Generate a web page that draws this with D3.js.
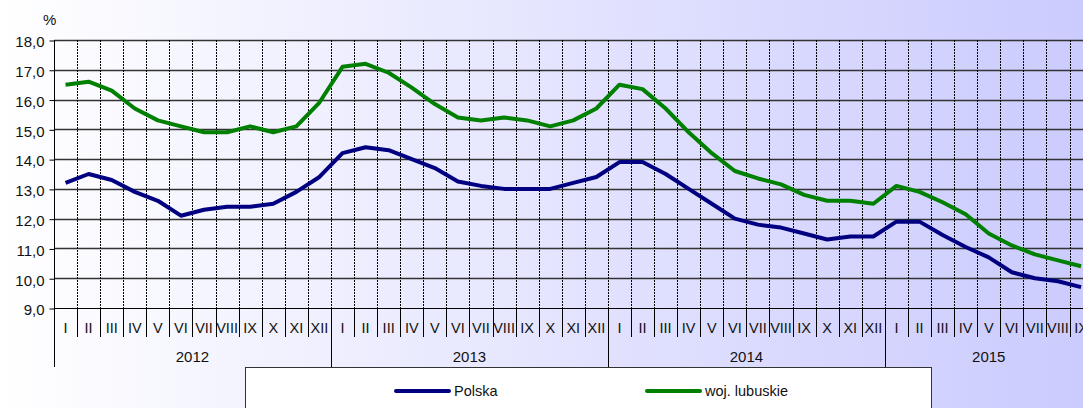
<!DOCTYPE html>
<html>
<head>
<meta charset="utf-8">
<script src="https://cdn.jsdelivr.net/npm/d3@7"></script>
<style>
  body { margin: 0; overflow: hidden; }
  text { font-family: "Liberation Sans", Arial, sans-serif; }
</style>
</head>
<body>
<div id="viz"></div>
<script>
// data
var years = ["2012", "2013", "2014", "2015"];
var monthsPerYear = [12, 12, 12, 9];
var romans = ["I","II","III","IV","V","VI","VII","VIII","IX","X","XI","XII"];
var polska = [13.2,13.5,13.3,12.9,12.6,12.1,12.3,12.4,12.4,12.5,12.9,13.4,
              14.2,14.4,14.3,14.0,13.7,13.25,13.1,13.0,13.0,13.0,13.2,13.4,
              13.9,13.9,13.5,13.0,12.5,12.0,11.8,11.7,11.5,11.3,11.4,11.4,
              11.9,11.9,11.45,11.05,10.7,10.2,10.0,9.9,9.7];
var lubuskie = [16.5,16.6,16.3,15.7,15.3,15.1,14.9,14.9,15.1,14.9,15.1,15.9,
                17.1,17.2,16.9,16.4,15.85,15.4,15.3,15.4,15.3,15.1,15.3,15.7,
                16.5,16.35,15.7,14.9,14.2,13.6,13.35,13.15,12.8,12.6,12.6,12.5,
                13.1,12.9,12.55,12.15,11.5,11.1,10.8,10.6,10.4];
var yTicks = [9,10,11,12,13,14,15,16,17,18];
var seriesNames = ["Polska", "woj. lubuskie"];
var seriesColors = ["#000080", "#008000"];

var W = 1083, H = 408;
var svg = d3.select("#viz").append("svg")
  .attr("width", W).attr("height", H);

var defs = svg.append("defs");
var grad = defs.append("linearGradient").attr("id", "bg")
  .attr("x1", "0%").attr("x2", "100%").attr("y1", "0%").attr("y2", "0%");
grad.append("stop").attr("offset", "0%").attr("stop-color", "#ffffff");
grad.append("stop").attr("offset", "100%").attr("stop-color", "#cbcbfe");
svg.append("rect").attr("width", W).attr("height", H).attr("fill", "url(#bg)");

// month list
var months = [];
years.forEach(function(yr, yi) {
  for (var m = 0; m < monthsPerYear[yi]; m++) months.push({year: yr, m: m, label: romans[m]});
});
var n = months.length;

var plotLeft = 54, step = 23.08, plotTop = 40, plotBottom = 308;
var x = d3.scaleBand().domain(d3.range(n)).range([plotLeft, plotLeft + n * step]).padding(0);
var y = d3.scaleLinear().domain([9, 18]).range([plotBottom, plotTop]);

function px(v) { return Math.round(v) + 0.5; }
function edge(k) { return px(x(0) + k * x.step()); }

// horizontal grid
svg.selectAll("line.hg").data(yTicks.slice(1)).enter().append("line")
  .attr("x1", plotLeft).attr("x2", W)
  .attr("y1", function(d) { return px(y(d)); })
  .attr("y2", function(d) { return px(y(d)); })
  .style("stroke", "#333").style("stroke-width", 1.3);

// vertical dashed grid
svg.selectAll("line.vg").data(d3.range(1, n + 1)).enter().append("line")
  .attr("x1", edge).attr("x2", edge)
  .attr("y1", plotTop).attr("y2", plotBottom)
  .style("stroke", "#000").style("stroke-width", 1)
  .style("stroke-dasharray", "2,1");

// month / year separators below axis
var yearEnds = d3.cumsum(monthsPerYear);
svg.selectAll("line.mt").data(d3.range(1, n + 1)).enter().append("line")
  .attr("x1", edge).attr("x2", edge)
  .attr("y1", plotBottom)
  .attr("y2", function(d) { return yearEnds.indexOf(d) >= 0 ? 367 : 337; })
  .style("stroke", "#000").style("stroke-width", 1);

// month labels
svg.selectAll("text.ml").data(months).enter().append("text")
  .attr("x", function(d, i) { return x(i) + x.bandwidth() / 2; })
  .attr("y", 333)
  .attr("text-anchor", "middle")
  .style("font-size", "14.5px").style("fill", "#111")
  .text(function(d) { return d.label; });

// year labels
var cum = 0;
years.forEach(function(yr, yi) {
  var a = x(cum), b = x(0) + (cum + monthsPerYear[yi]) * x.step();
  svg.append("text").attr("x", (a + b) / 2).attr("y", 362)
    .attr("text-anchor", "middle").style("font-size", "15px").style("fill", "#111")
    .text(yr);
  cum += monthsPerYear[yi];
});

// x axis line
svg.append("line").attr("x1", plotLeft).attr("x2", W)
  .attr("y1", px(y(9))).attr("y2", px(y(9)))
  .style("stroke", "#000");

// y axis
var yAxis = d3.axisLeft(y).tickValues(yTicks).tickSize(5).tickPadding(5)
  .tickFormat(function(d) { return d3.format(".1f")(d).replace(".", ","); });
var ga = svg.append("g").attr("transform", "translate(" + (plotLeft + 0.5) + ",0.5)").call(yAxis);
ga.select(".domain").remove();
ga.selectAll("line").style("stroke", "#000");
ga.selectAll("text").attr("dy", "0.42em").style("font-size", "15px").style("fill", "#111")
  .style("font-family", "'Liberation Sans', Arial, sans-serif");
svg.append("line").attr("x1", plotLeft + 0.5).attr("x2", plotLeft + 0.5)
  .attr("y1", plotTop).attr("y2", 367).style("stroke", "#000");

svg.append("text").attr("x", 43).attr("y", 25).style("font-size", "15px")
  .style("fill", "#111").text("%");

// lines
var line = d3.line()
  .x(function(d, i) { return x(i) + x.bandwidth() / 2; })
  .y(function(d) { return y(d); });
[polska, lubuskie].forEach(function(s, si) {
  svg.append("path").datum(s)
    .attr("d", line)
    .style("fill", "none")
    .style("stroke", seriesColors[si])
    .style("stroke-width", 4)
    .style("stroke-linejoin", "round");
});

// legend
svg.append("rect").attr("x", 245.5).attr("y", 367.5).attr("width", 686).attr("height", 60)
  .style("fill", "#fff").style("stroke", "#333");
var legX = [396, 647];
seriesNames.forEach(function(name, i) {
  svg.append("line").attr("x1", legX[i]).attr("x2", legX[i] + 53)
    .attr("y1", 391).attr("y2", 391)
    .style("stroke", seriesColors[i]).style("stroke-width", 4)
    .style("stroke-linecap", "round");
  svg.append("text").attr("x", legX[i] + 58).attr("y", 396)
    .style("font-size", "14.5px").style("fill", "#111").text(name);
});
</script>
</body>
</html>
